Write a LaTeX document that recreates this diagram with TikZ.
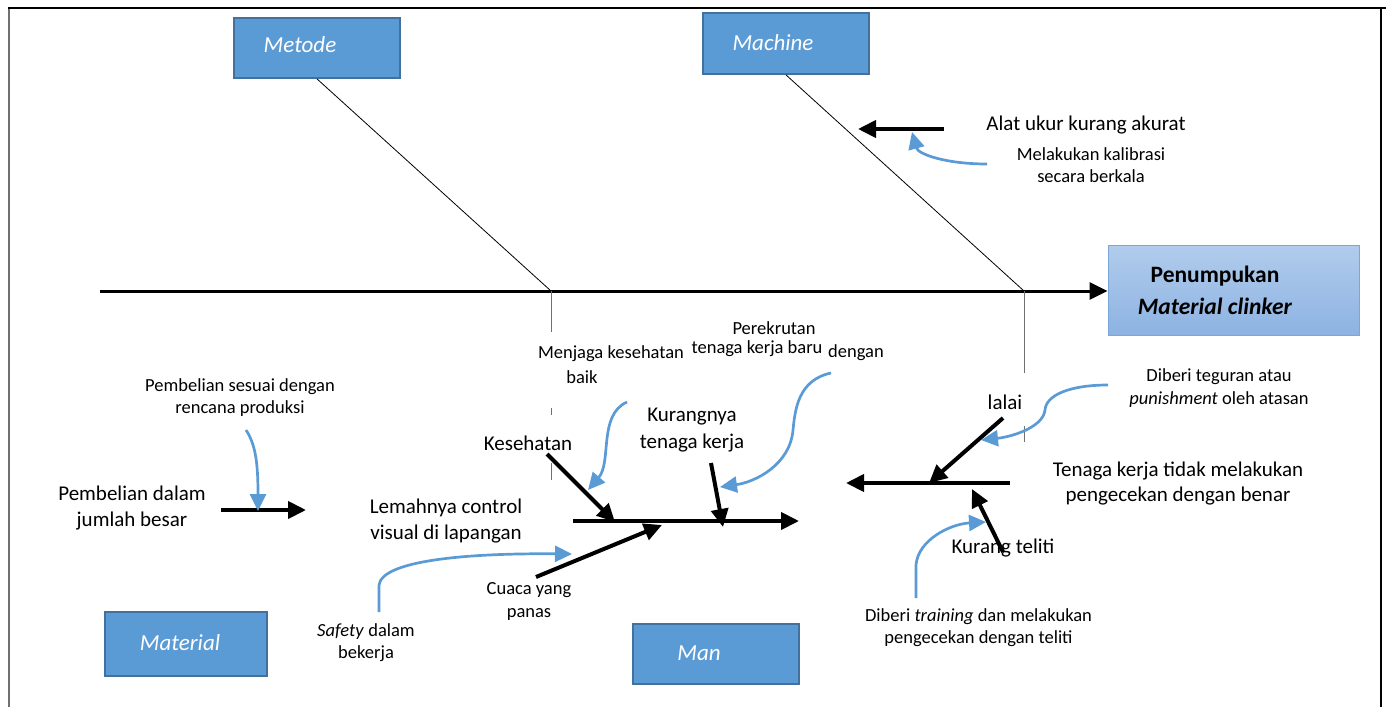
\documentclass[tikz,border=0pt]{standalone}
\usepackage{fontspec}
\setmainfont{Carlito}
\usetikzlibrary{arrows.meta}
\definecolor{boxblue}{HTML}{5B9BD5}
\definecolor{boxedge}{HTML}{41719C}
\definecolor{lightA}{HTML}{B1CCEC}
\definecolor{lightB}{HTML}{8DB3E2}
\definecolor{lightedge}{HTML}{7BA6DA}
\definecolor{bordergray}{HTML}{707070}
\begin{document}
\begin{tikzpicture}[x=1pt,y=-1pt,
  catbox/.style={draw=boxedge, line width=1.8pt, fill=boxblue, inner sep=0},
  cattext/.style={text=white, font=\fontsize{23}{28}\selectfont\itshape, inner sep=0},
  bigtxt/.style={font=\fontsize{21}{25.6}\selectfont, align=center, inner sep=0},
  smalltxt/.style={font=\fontsize{18.5}{22.5}\selectfont, align=center, inner sep=0},
  blk/.style={line width=4pt, -{Triangle[length=18pt,width=17pt]}},
  blu/.style={draw=boxblue, line width=2.7pt, -{Triangle[length=17pt,width=16pt]}},
  spine/.style={line width=3pt, -{Triangle[length=18pt,width=17pt]}},
  bone/.style={line width=0.8pt},
  vline/.style={line width=1pt, draw=bordergray}
]
\useasboundingbox (0,0) rectangle (1386,707);
% frame
\draw[line width=1.5pt, draw=bordergray] (9,707) -- (9,8);
\draw[line width=1.8pt] (8,8) -- (1386,8);
\draw[line width=1.5pt] (1381,8) -- (1381,707);

% category boxes
\node[catbox, minimum width=166pt, minimum height=60pt] (metode) at (317,48) {};
\node[cattext] (metodeT) at (300,45) {Metode};
\node[catbox, minimum width=166pt, minimum height=61pt] (machine) at (786,43.5) {};
\node[cattext] (machineT) at (773,43) {Machine};
\node[catbox, minimum width=162pt, minimum height=64pt] (material) at (186,644) {};
\node[cattext] (materialT) at (180,643) {Material};
\node[catbox, minimum width=166pt, minimum height=60pt] (man) at (716,654) {};
\node[cattext] (manT) at (699,653) {Man};

% effect box
\node[draw=lightedge, line width=0.8pt, top color=lightA, bottom color=lightB,
      minimum width=251pt, minimum height=90pt, inner sep=0] (effect) at (1233.5,290) {};
\node[font=\fontsize{23.5}{32}\selectfont\bfseries, align=center, inner sep=0] (effectT) at (1215,290.5)
  {Penumpukan\\\textit{Material clinker}};

% spine and bones
\coordinate (sp0) at (100,291);
\coordinate (jm) at (551,291);
\coordinate (jc) at (1024,291);
\draw[spine] (sp0) -- (effect.west |- sp0);
\draw[bone] (metode.south) -- (jm);
\draw[bone] (machine.south) -- (jc);
\coordinate (v1) at (551,332);
\coordinate (v2a) at (551,408); \coordinate (v2b) at (551,415);
\coordinate (v3a) at (551,463); \coordinate (v3b) at (551,480);
\draw[vline] (jm) -- (v1);
\draw[vline] (v2a) -- (v2b);
\draw[vline] (v3a) -- (v3b);
\coordinate (w1) at (1024,373);
\coordinate (w2a) at (1024,426); \coordinate (w2b) at (1024,442);
\draw[vline] (jc) -- (w1);
\draw[vline] (w2a) -- (w2b);

% Machine cause
\coordinate (m1s) at (944,129); \coordinate (m1e) at (858,129);
\draw[blk] (m1s) -- (m1e);
\node[bigtxt] (alat) at (1086,125) {Alat ukur kurang akurat};
\node[smalltxt] (kalib) at (1091,165) {Melakukan kalibrasi\\secara berkala};
\coordinate (c1s) at (987,164); \coordinate (c1e) at (912,132);
\draw[blu] (c1s) .. controls (945,164) and (918,154) .. (c1e);

% Material cause
\coordinate (p1s) at (221,510); \coordinate (p1e) at (306,510);
\draw[blk] (p1s) -- (p1e);
\node[bigtxt] (pdb) at (132,508) {Pembelian dalam\\jumlah besar};
\node[smalltxt] (psd) at (240,397.5) {Pembelian sesuai dengan\\rencana produksi};
\coordinate (c2s) at (246,430); \coordinate (c2e) at (258,511);
\draw[blu] (c2s) .. controls (256,445) and (258,465) .. (c2e);

% Man - left cluster
\node[bigtxt] (lemah) at (446,521) {Lemahnya control\\visual di lapangan};
\coordinate (ms0) at (573,521); \coordinate (ms1) at (799,521);
\draw[blk] (ms0) -- (ms1);
\node[bigtxt] (kes) at (528,443) {Kesehatan};
\coordinate (k1s) at (547,454); \coordinate (k1e) at (615,522);
\draw[blk] (k1s) -- (k1e);
\node[bigtxt] (kur) at (692,430.5) {Kurangnya\\[1.5pt]tenaga kerja};
\coordinate (k2s) at (711,463); \coordinate (k2e) at (723,527);
\draw[blk] (k2s) -- (k2e);
\node[smalltxt] (cuaca) at (529,601.5) {Cuaca yang\\panas};
\coordinate (k3s) at (536,577); \coordinate (k3e) at (662,525);
\draw[blk] (k3s) -- (k3e);
\node[smalltxt] (menjaga) at (611,354) {Menjaga kesehatan};
\node[smalltxt] (baik) at (582,377) {baik};
\coordinate (c3s) at (627,402); \coordinate (c3e) at (588,490);
\draw[blu] (c3s) .. controls (598,415) and (612,462) .. (c3e);
\node[smalltxt] (perek) at (774,328) {Perekrutan};
\node[smalltxt] (tkb) at (757,349) {tenaga kerja baru};
\node[smalltxt] (dengan) at (856,353) {dengan};
\coordinate (c4s) at (831,373); \coordinate (c4m) at (793,430); \coordinate (c4e) at (720,487);
\draw[blu] (c4s) .. controls (798,380) and (795,410) .. (c4m) .. controls (790,465) and (755,482) .. (c4e);
\node[smalltxt] (safety) at (366,642.5) {\textit{Safety} dalam\\bekerja};
\coordinate (c5s) at (379,612); \coordinate (c5m) at (379,585); \coordinate (c5e) at (572,554);
\draw[blu] (c5s) -- (c5m) .. controls (382,560) and (470,553) .. (c5e);

% Man - right cluster
\node[bigtxt] (tk) at (1178,483.5) {Tenaga kerja tidak melakukan\\pengecekan dengan benar};
\coordinate (t0) at (1010,483); \coordinate (t1) at (846,483);
\draw[blk] (t0) -- (t1);
\node[bigtxt] (lalai) at (1005,402) {lalai};
\coordinate (l1s) at (1003,418); \coordinate (l1e) at (929,483);
\draw[blk] (l1s) -- (l1e);
\node[smalltxt] (teguran) at (1219,388) {Diberi teguran atau\\\textit{punishment} oleh atasan};
\coordinate (c6s) at (1108,385); \coordinate (c6m) at (1045,410); \coordinate (c6e) at (981,440);
\draw[blu] (c6s) .. controls (1070,385) and (1046,395) .. (c6m) .. controls (1043,428) and (1010,437) .. (c6e);
\node[bigtxt] (teliti) at (1003,548) {Kurang teliti};
\coordinate (r1s) at (1003,552); \coordinate (r1e) at (972,489);
\draw[blk] (r1s) -- (r1e);
\node[smalltxt] (training) at (978.5,627.5) {Diberi \textit{training} dan melakukan\\pengecekan dengan teliti};
\coordinate (c7s) at (916,598); \coordinate (c7m) at (916,565); \coordinate (c7e) at (986,522);
\draw[blu] (c7s) -- (c7m) .. controls (918,540) and (950,524) .. (c7e);
\end{tikzpicture}
\end{document}
